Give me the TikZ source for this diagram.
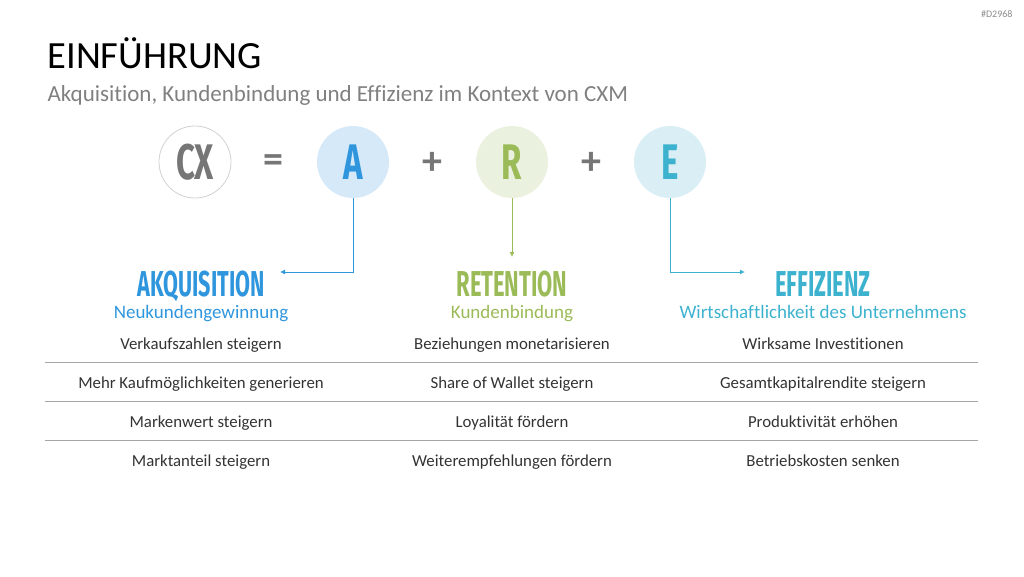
\documentclass[tikz,border=0pt]{standalone}
\usepackage{graphicx}
\usepackage{fontspec}
\setmainfont{Carlito}[Ligatures={NoCommon,NoRequired}]
\newfontfamily\bebas{Fira Sans}
\usetikzlibrary{arrows.meta,positioning}

\definecolor{acqblue}{HTML}{2F96DD}
\definecolor{acqfill}{HTML}{D6E9F8}
\definecolor{retgreen}{HTML}{9BBB59}
\definecolor{retfill}{HTML}{EBF1DF}
\definecolor{effcyan}{HTML}{3DB2CE}
\definecolor{efffill}{HTML}{D9EEF5}
\definecolor{txtgray}{HTML}{333333}
\definecolor{subgray}{HTML}{808080}
\definecolor{cxgray}{HTML}{767676}

% condensed caps, close to the slide's display face
\newcommand{\condensed}[2]{{\bebas\bfseries\scalebox{#1}[1]{#2}}}

\begin{document}
\begin{tikzpicture}[x=1pt,y=-1pt,
  letter/.style={circle,minimum size=72pt,inner sep=0pt,font=\fontsize{50}{50}\selectfont},
  sign/.style={text=cxgray,font=\fontsize{40}{40}\bfseries\selectfont},
  head/.style={anchor=base,inner sep=0pt,text depth=0pt,font=\fontsize{36}{40}\selectfont},
  subhead/.style={anchor=base,inner sep=0pt,text height=12pt,font=\fontsize{19}{22}\selectfont},
  cell/.style={anchor=base,text=txtgray,font=\fontsize{16.8}{19}\selectfont},
  rule/.style={draw=black!35,line width=0.8pt},
  link/.style={line width=0.9pt,-{Latex[length=5pt,width=5pt]}}]
\useasboundingbox (0,0) rectangle (1024,576);

\node[anchor=north east,text=black!45,font=\fontsize{10}{11}\selectfont] (tag) at (1016,7) {\#D2968};
\node[anchor=base west,text=black,font=\fontsize{38.5}{44}\selectfont] (title) at (44,68) {EINFÜHRUNG};
\node[anchor=base west,text=subgray,font=\fontsize{23}{26}\selectfont] (subtitle) at (44,101)
  {Akquisition, Kundenbindung und Effizienz im Kontext von CXM};

% the formula
\node[letter,draw=black!18,line width=0.8pt,text=cxgray] (cx) at (195,162) {\condensed{0.66}{CX}};
\node[letter,fill=acqfill,text=acqblue] (a) at (353,162) {\condensed{0.66}{A}};
\node[letter,fill=retfill,text=retgreen] (r) at (512,162) {\condensed{0.66}{R}};
\node[letter,fill=efffill,text=effcyan] (e) at (670,162) {\condensed{0.66}{E}};
\node[sign] (eq) at (273,164) {=};
\node[sign] (plus1) at (432,163) {+};
\node[sign] (plus2) at (591,163) {+};

% column heads
\node[head,text=acqblue] (acq) at (201,296) {\condensed{0.6}{AKQUISITION}};
\node[head,text=retgreen] (ret) at (512,296) {\condensed{0.61}{RETENTION}};
\node[head,text=effcyan] (eff) at (823,296) {\condensed{0.61}{EFFIZIENZ}};
\node[subhead,text=acqblue] (acqsub) at (201,318) {Neukundengewinnung};
\node[subhead,text=retgreen] (retsub) at (512,318) {Kundenbindung};
\node[subhead,text=effcyan] (effsub) at (823,318) {Wirtschaftlichkeit des Unternehmens};

\coordinate (acqend) at (280,272);
\coordinate (retend) at (512,257);
\coordinate (effend) at (745,272);
\draw[link,acqblue] (a.south) |- (acqend);
\draw[link,retgreen] (r.south) -- (retend);
\draw[link,effcyan] (e.south) |- (effend);

% table
\foreach \y in {362,401,440}
  \draw[rule] (45,\y) -- (978,\y);
\foreach \row/\ya/\ta/\tb/\tc in {
  1/349/Verkaufszahlen steigern/Beziehungen monetarisieren/Wirksame Investitionen,
  2/388/Mehr Kaufmöglichkeiten generieren/Share of Wallet steigern/Gesamtkapitalrendite steigern,
  3/427/Markenwert steigern/Loyalität fördern/Produktivität erhöhen,
  4/466/Marktanteil steigern/Weiterempfehlungen fördern/Betriebskosten senken}{
  \node[cell] (acq\row) at (201,\ya) {\ta};
  \node[cell] (ret\row) at (512,\ya) {\tb};
  \node[cell] (eff\row) at (823,\ya) {\tc};
}
\end{tikzpicture}
\end{document}
